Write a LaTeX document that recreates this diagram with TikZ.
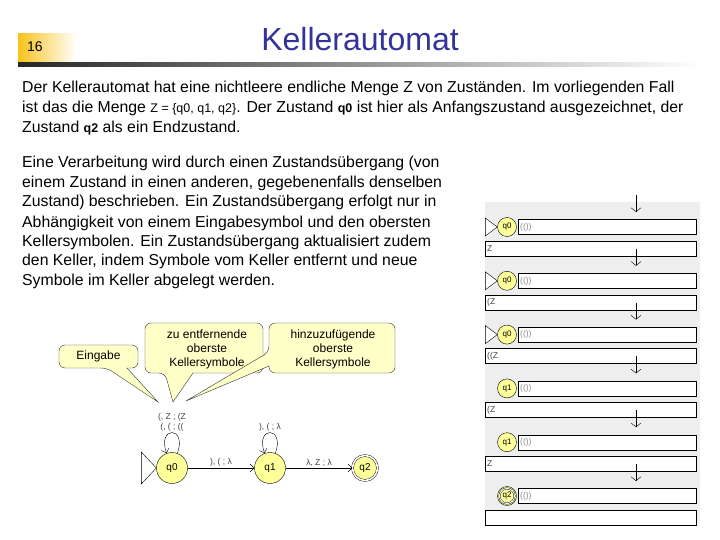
\documentclass[tikz,border=0pt]{standalone}
\usepackage{fontspec}
\setmainfont{Liberation Sans}
\usetikzlibrary{arrows.meta}
\definecolor{titleblue}{HTML}{333399}
\definecolor{slidegold}{HTML}{F7C31A}
\definecolor{bubblefill}{HTML}{FFFFC8}
\definecolor{statefill}{HTML}{FFFF99}
\definecolor{panelgray}{HTML}{EEEEEE}
\newcommand{\sm}[1]{{\fontsize{12.5}{15}\selectfont #1}}
\tikzset{
  bodyline/.style={anchor=base west,inner sep=0pt,font=\fontsize{15.8}{19}\selectfont},
  bubble/.style={draw=black!80,fill=bubblefill},
  bubbletext/.style={align=center,inner sep=0pt,font=\fontsize{12}{14}\selectfont},
  state/.style={circle,draw,fill=statefill,minimum size=31pt,inner sep=0pt,
    font=\fontsize{10}{12}\selectfont},
  trans/.style={-{Straight Barb[length=4pt,width=8pt]}},
  edgelabel/.style={font=\fontsize{8.5}{9.5}\selectfont,text=black!75,inner sep=1.5pt,align=center},
  ministate/.style={circle,draw,fill=statefill,minimum size=19pt,inner sep=0pt,
    font=\fontsize{8}{9}\selectfont},
  tapebox/.style={draw,fill=white,anchor=west,minimum height=15pt,inner sep=2pt,
    align=left,font=\fontsize{8.5}{9}\selectfont},
  stepdown/.style={-{Straight Barb[length=4pt,width=10pt]}}
}
\begin{document}
\begin{tikzpicture}[x=1pt,y=1pt]
  \useasboundingbox (0,0) rectangle (720,-540);
  % Header
  \shade[left color=slidegold,right color=white] (18,-34) rectangle (76,-62);
  \node[anchor=base west,inner sep=0pt,font=\fontsize{14}{16}\selectfont] (pagenum) at (27,-52) {16};
  \node[anchor=base,inner sep=0pt,text=titleblue,font=\fontsize{32}{36}\selectfont] (title) at (360,-51) {Kellerautomat};
  \shade[left color=black!85,right color=white] (18,-63) rectangle (700,-67);
  % Text
  \node[bodyline] (p1a) at (22,-93) {Der Kellerautomat hat eine nichtleere endliche Menge Z von Zuständen. Im vorliegenden Fall};
  \node[bodyline] (p1b) at (22,-113) {ist das die Menge \sm{Z = \{q0, q1, q2\}}. Der Zustand \sm{\textbf{q0}} ist hier als Anfangszustand ausgezeichnet, der};
  \node[bodyline] (p1c) at (22,-133) {Zustand \sm{\textbf{q2}} als ein Endzustand.};
  \node[bodyline] (p2a) at (22,-168) {Eine Verarbeitung wird durch einen Zustandsübergang (von};
  \node[bodyline] (p2b) at (22,-188) {einem Zustand in einen anderen, gegebenenfalls denselben};
  \node[bodyline] (p2c) at (22,-207) {Zustand) beschrieben. Ein Zustandsübergang erfolgt nur in};
  \node[bodyline] (p2d) at (22,-227) {Abhängigkeit von einem Eingabesymbol und den obersten};
  \node[bodyline] (p2e) at (22,-246) {Kellersymbolen. Ein Zustandsübergang aktualisiert zudem};
  \node[bodyline] (p2f) at (22,-265) {den Keller, indem Symbole vom Keller entfernt und neue};
  \node[bodyline] (p2g) at (22,-285) {Symbole im Keller abgelegt werden.};
  % Automaton
  \node[state] (q0) at (172,-468) {q0};
  \node[state] (q1) at (270,-468) {q1};
  \node[state,double,double distance=1.6pt,minimum size=25pt] (q2) at (365,-468) {q2};
  \draw[fill=white] (q0.west) -- ++(-15,16) -- ++(0,-32) -- cycle;
  \draw[trans] (q0) to[out=70,in=110,looseness=7]
    node[edgelabel,above] (loop0) {(, Z ; (Z\\(, ( ; ((} (q0);
  \draw[trans] (q1) to[out=70,in=110,looseness=7]
    node[edgelabel,above] (loop1) {), ( ; λ} (q1);
  \draw[trans] (q0) -- node[edgelabel,above] {), ( ; λ} (q1);
  \draw[trans] (q1) -- node[edgelabel,above] {λ, Z ; λ} (q2);
  % Callouts
  \draw[bubble] (107,-368) -- (158,-402) -- (127,-368)
    [rounded corners=6pt] -- (138,-368) -- (138,-345) -- (59,-345) -- (59,-368) -- cycle;
  \node[bubbletext] (eingabe) at (98.5,-356.5) {Eingabe};
  \draw[bubble] (165,-373) -- (173,-402) -- (193,-373)
    [rounded corners=6pt] -- (263,-373) -- (263,-323) -- (145,-323) -- (145,-373) -- cycle;
  \node[bubbletext] (entfernen) at (207,-349) {zu entfernende\\oberste\\Kellersymbole};
  \draw[bubble] (269,-352) -- (186,-401) -- (269,-366)
    [rounded corners=6pt] -- (269,-373) -- (395,-373) -- (395,-323) -- (269,-323) -- cycle;
  \node[bubbletext] (hinzu) at (333,-349) {hinzuzufügende\\oberste\\Kellersymbole};
  % Simulation steps
  \fill[panelgray] (485,-202) rectangle (700,-521);
  \foreach \i/\st/\stk in {0/q0/Z,1/q0/{(Z},2/q0/{((Z},3/q1/{(Z},4/q1/Z,5/q2/{}} {
    \pgfmathsetmacro\y{-227-53.8*\i}
    \coordinate (a\i) at (636,\y+32);
    \coordinate (b\i) at (636,\y+15);
    \draw[stepdown] (a\i) -- (b\i);
    \node[ministate] (s\i) at (507,\y) {\st};
    \node[tapebox,text width=174pt,text=black!45] (in\i) at (518,\y) {(())};
    \node[tapebox,text width=207pt,text=black!75] (st\i) at (485,\y-21.5) {\stk};
  }
  \draw[double,double distance=1pt] (s5) circle (7.5pt);
  \foreach \i in {0,1,2}
    \draw[fill=white] (s\i.west) -- ++(-12,9) -- ++(0,-18) -- cycle;
\end{tikzpicture}
\end{document}
